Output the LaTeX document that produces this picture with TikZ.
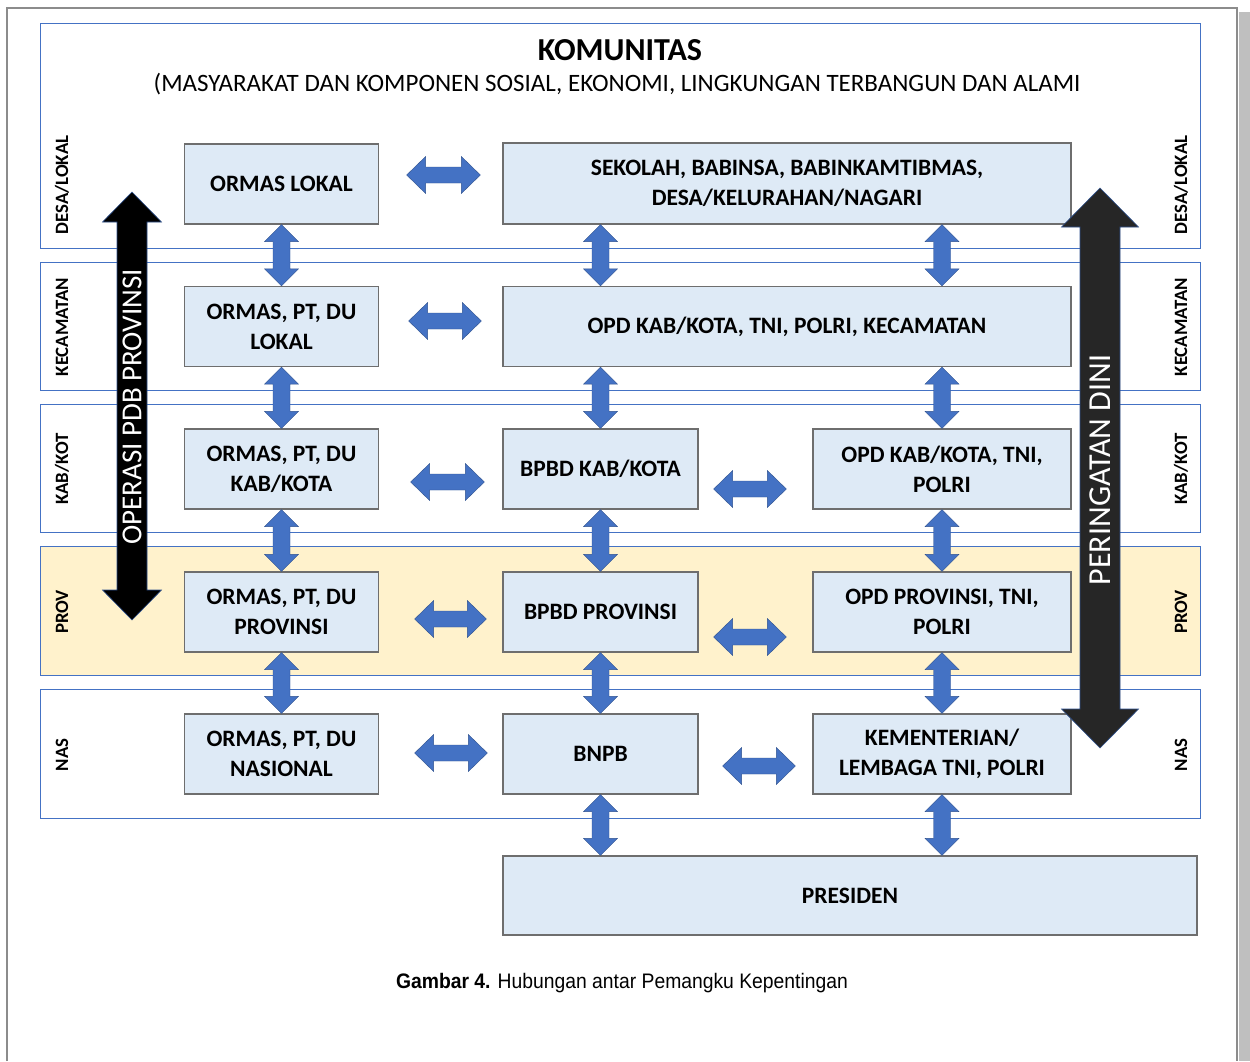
\documentclass[tikz,border=0pt]{standalone}
\usepackage{fontspec}
\setmainfont{Carlito}
\newfontfamily\capfont{Liberation Sans}
\usetikzlibrary{calc}
\definecolor{boxfill}{HTML}{DEEAF6}
\definecolor{boxline}{HTML}{6E6E6E}
\definecolor{bandline}{HTML}{4472C4}
\definecolor{provfill}{HTML}{FFF2CC}
\definecolor{arrblue}{HTML}{4472C4}
\definecolor{arrline}{HTML}{2F528F}
\definecolor{pageline}{HTML}{8C8C8C}
\definecolor{shadow}{HTML}{BFBFBF}
\tikzset{
  box/.style={draw=boxline, line width=1.3pt, fill=boxfill, align=center,
    inner sep=0pt, font=\fontsize{23.5}{30}\selectfont\bfseries},
  band/.style={draw=bandline, line width=0.8pt},
  bandlabel/.style={rotate=90, font=\fontsize{18.8}{20}\selectfont\bfseries, inner sep=0pt},
  barrow/.style={fill=arrblue, draw=arrline, line width=0.4pt},
  blackarrow/.style={fill=black, draw=arrline, line width=0.6pt},
  grayarrow/.style={fill=black!85, draw=arrline, line width=0.6pt},
}
% vertical double arrow: #1 style, #2 top tip, #3 bottom tip, #4 head half width, #5 head length, #6 shaft half width
\newcommand\vdarrow[6]{%
  \path (#2) coordinate (vA) (#3) coordinate (vB);
  \filldraw[#1] (vA) -- ($(vA)+(#4,#5)$) -- ($(vA)+(#6,#5)$) -- ($(vB)+(#6,-#5)$)
    -- ($(vB)+(#4,-#5)$) -- (vB) -- ($(vB)+(-#4,-#5)$) -- ($(vB)+(-#6,-#5)$)
    -- ($(vA)+(-#6,#5)$) -- ($(vA)+(-#4,#5)$) -- cycle;}
% horizontal double arrow: #1 left tip, #2 right tip
\newcommand\hdarrow[2]{%
  \path (#1) coordinate (hA) (#2) coordinate (hB);
  \filldraw[barrow] (hA) -- ($(hA)+(19,-18.5)$) -- ($(hA)+(19,-8)$) -- ($(hB)+(-19,-8)$)
    -- ($(hB)+(-19,-18.5)$) -- (hB) -- ($(hB)+(-19,18.5)$) -- ($(hB)+(-19,8)$)
    -- ($(hA)+(19,8)$) -- ($(hA)+(19,18.5)$) -- cycle;}
\newcommand\smallv[2]{\vdarrow{barrow}{#1}{#2}{17}{17}{8.5}}
\begin{document}
\begin{tikzpicture}[x=1pt,y=-1pt]
\useasboundingbox (0,0) rectangle (1250,1061);
% page
\fill[white] (0,0) rectangle (1250,1061);
\fill[shadow] (1239,12) rectangle (1250,1061);
\draw[pageline, line width=1.6pt] (7,1061) -- (7,8) -- (1237,8) -- (1237,1061);
% bands
\draw[band] (40,23) rectangle (1200,248);
\draw[band] (40,262) rectangle (1200,390);
\draw[band] (40,404) rectangle (1200,532);
\filldraw[band, fill=provfill] (40,546) rectangle (1200,675);
\draw[band] (40,689) rectangle (1200,818);
% titles
\node[font=\fontsize{32}{34}\selectfont\bfseries] (title) at (620,50) {KOMUNITAS};
\node[font=\fontsize{25}{27}\selectfont] (sub) at (617,84) {(MASYARAKAT DAN KOMPONEN SOSIAL, EKONOMI, LINGKUNGAN TERBANGUN DAN ALAMI};
% band labels
\node[bandlabel] (l1) at (62,185) {DESA/LOKAL};
\node[bandlabel] (l2) at (62,327) {KECAMATAN};
\node[bandlabel] (l3) at (62,469) {KAB/KOT};
\node[bandlabel] (l4) at (62,612) {PROV};
\node[bandlabel] (l5) at (62,755) {NAS};
\node[bandlabel] (r1) at (1181,185) {DESA/LOKAL};
\node[bandlabel] (r2) at (1181,327) {KECAMATAN};
\node[bandlabel] (r3) at (1181,469) {KAB/KOT};
\node[bandlabel] (r4) at (1181,612) {PROV};
\node[bandlabel] (r5) at (1181,755) {NAS};
% boxes
\node[box, minimum width=194pt, minimum height=80pt] (a1) at (281.5,184) {ORMAS LOKAL};
\node[box, minimum width=194pt, minimum height=80pt] (a2) at (281.5,326.5) {ORMAS, PT, DU\\LOKAL};
\node[box, minimum width=194pt, minimum height=80pt] (a3) at (281.5,469) {ORMAS, PT, DU\\KAB/KOTA};
\node[box, minimum width=194pt, minimum height=80pt] (a4) at (281.5,612) {ORMAS, PT, DU\\PROVINSI};
\node[box, minimum width=194pt, minimum height=80pt] (a5) at (281.5,754) {ORMAS, PT, DU\\NASIONAL};
\node[box, minimum width=568pt, minimum height=81pt] (w1) at (787,183.5) {SEKOLAH, BABINSA, BABINKAMTIBMAS,\\DESA/KELURAHAN/NAGARI};
\node[box, minimum width=568pt, minimum height=80pt] (w2) at (787,326.5) {OPD KAB/KOTA, TNI, POLRI, KECAMATAN};
\node[box, minimum width=195pt, minimum height=80pt] (m3) at (600.5,469) {BPBD KAB/KOTA};
\node[box, minimum width=195pt, minimum height=80pt] (m4) at (600.5,612) {BPBD PROVINSI};
\node[box, minimum width=195pt, minimum height=80pt] (m5) at (600.5,754) {BNPB};
\node[box, minimum width=258pt, minimum height=80pt] (c3) at (942,469) {OPD KAB/KOTA, TNI,\\POLRI};
\node[box, minimum width=258pt, minimum height=80pt] (c4) at (942,612) {OPD PROVINSI, TNI,\\POLRI};
\node[box, minimum width=258pt, minimum height=80pt] (c5) at (942,754) {KEMENTERIAN/\\LEMBAGA TNI, POLRI};
\node[box, minimum width=694pt, minimum height=79pt] (pr) at (850,895.5) {PRESIDEN};
% horizontal arrows
\hdarrow{$(a1.east)+(27.5,-9)$}{$(w1.west)+(-22,-8.5)$}
\hdarrow{$(a2.east)+(29.5,-5.5)$}{$(w2.west)+(-21,-5.5)$}
\hdarrow{$(a3.east)+(31.5,13)$}{$(m3.west)+(-18,13)$}
\hdarrow{$(m3.east)+(15,20)$}{$(c3.west)+(-26,20)$}
\hdarrow{$(a4.east)+(35.5,7)$}{$(m4.west)+(-16,7)$}
\hdarrow{$(m4.east)+(15,25)$}{$(c4.west)+(-26,25)$}
\hdarrow{$(a5.east)+(35.5,-1)$}{$(m5.west)+(-15,-1)$}
\hdarrow{$(m5.east)+(24,12)$}{$(c5.west)+(-17,12)$}
% vertical arrows
\smallv{a1.south}{a2.north}
\smallv{a2.south}{a3.north}
\smallv{a3.south}{a4.north}
\smallv{a4.south}{a5.north}
\smallv{w1.south -| m3.north}{w2.north -| m3.north}
\smallv{w1.south -| c3.north}{w2.north -| c3.north}
\smallv{w2.south -| m3.north}{m3.north}
\smallv{w2.south -| c3.north}{c3.north}
\smallv{m3.south}{m4.north}
\smallv{c3.south}{c4.north}
\smallv{m4.south}{m5.north}
\smallv{c4.south}{c5.north}
\smallv{m5.south}{pr.north -| m5.south}
\smallv{c5.south}{pr.north -| c5.south}
% big arrows
\coordinate (opTop) at (132,192);
\coordinate (opBot) at (132,620);
\vdarrow{blackarrow}{opTop}{opBot}{29.5}{30}{15}
\node[rotate=90, text=white, font=\fontsize{29}{31}\selectfont] (op) at ($(opTop)!0.5!(opBot)+(0,1)$) {OPERASI PDB PROVINSI};
\coordinate (pdTop) at (1100,188);
\coordinate (pdBot) at (1100,748);
\vdarrow{grayarrow}{pdTop}{pdBot}{38.5}{39}{20}
\node[rotate=90, text=white, font=\fontsize{32}{34}\selectfont] (pd) at ($(pdTop)!0.5!(pdBot)+(0,2)$) {PERINGATAN DINI};
% caption
\node[font=\capfont\fontsize{21}{24}\selectfont, xscale=0.92] (cap) at (622,983) {\textbf{Gambar 4.} Hubungan antar Pemangku Kepentingan};
\end{tikzpicture}
\end{document}
